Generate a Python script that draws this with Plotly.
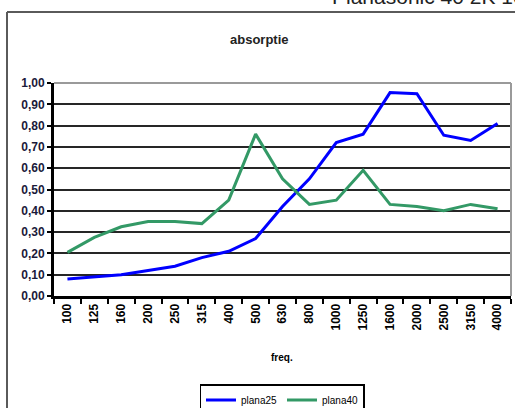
import plotly.graph_objects as go

freqs = ["100", "125", "160", "200", "250", "315", "400", "500", "630", "800",
         "1000", "1250", "1600", "2000", "2500", "3150", "4000"]
plana25 = [0.08, 0.09, 0.10, 0.12, 0.14, 0.18, 0.21, 0.27, 0.42, 0.55,
           0.72, 0.76, 0.955, 0.95, 0.755, 0.73, 0.81]
plana40 = [0.205, 0.275, 0.325, 0.35, 0.35, 0.34, 0.45, 0.76, 0.55, 0.43,
           0.45, 0.59, 0.43, 0.42, 0.40, 0.43, 0.41]
ytick_values = [0.0, 0.1, 0.2, 0.3, 0.4, 0.5, 0.6, 0.7, 0.8, 0.9, 1.0]

W, H = 515, 408
L, R, T, B = 54, 4, 83, 112
pw, ph = W - L - R, H - T - B

def px(x):
    return (x - L) / pw

def py(y):
    return (H - B - y) / ph

fig = go.Figure()
fig.add_trace(go.Scatter(x=freqs, y=plana25, mode="lines", name="plana25",
                         line=dict(color="#0000FF", width=3)))
fig.add_trace(go.Scatter(x=freqs, y=plana40, mode="lines", name="plana40",
                         line=dict(color="#339966", width=3)))

fig.update_layout(
    width=W, height=H,
    margin=dict(l=L, r=R, t=T, b=B, autoexpand=False),
    paper_bgcolor="white", plot_bgcolor="white",
    showlegend=True,
    font=dict(family="Liberation Sans, Arial", color="black"),
    legend=dict(orientation="h", x=px(282), xanchor="center", y=py(384), yanchor="top",
                bordercolor="black", borderwidth=1.5, bgcolor="white",
                font=dict(size=10, family="Liberation Sans Narrow, Liberation Sans, Arial"),
                itemwidth=30, tracegroupgap=0, entrywidth=36, entrywidthmode="pixels"),
    xaxis=dict(type="category", range=[-0.5, 16.5], tickson="boundaries",
               showgrid=False, showline=True, linecolor="black", linewidth=3,
               ticks="outside", ticklen=5, tickwidth=2, tickcolor="black",
               tickangle=-90, tickfont=dict(size=12, family="Liberation Sans", color="black"),
               zeroline=False),
    yaxis=dict(range=[0, 1.0],
               showgrid=True, gridcolor="#262626", gridwidth=1.5,
               showline=True, linecolor="black", linewidth=3,
               ticks="outside", ticklen=4, tickwidth=2, tickcolor="black",
               tickfont=dict(size=12, family="Liberation Sans Narrow, Liberation Sans", color="#1a1a3a"),
               zeroline=False),
)

fig.update_xaxes(tickvals=freqs, ticktext=["<b>%s</b>" % f for f in freqs])
fig.update_yaxes(tickvals=ytick_values,
                 ticktext=["<b>%s</b>" % ("%.2f" % v).replace(".", ",") for v in ytick_values])

# plot-area border (top/right, gray)
fig.add_shape(type="line", xref="x domain", yref="y domain", x0=0, x1=1, y0=1, y1=1,
              line=dict(color="#9a9a9a", width=2))
fig.add_shape(type="line", xref="x domain", yref="y domain", x0=1, x1=1, y0=0, y1=1,
              line=dict(color="#9a9a9a", width=2))

# outer chart frame
fig.add_shape(type="line", xref="paper", yref="paper", x0=px(7), x1=px(W + 5), y0=py(12), y1=py(12),
              line=dict(color="#5a5a5a", width=2))
fig.add_shape(type="line", xref="paper", yref="paper", x0=px(7), x1=px(7), y0=py(12), y1=py(H + 5),
              line=dict(color="#5a5a5a", width=2))

fig.add_annotation(text="<b>absorptie</b>", xref="paper", yref="paper",
                   x=px(259), y=py(40), xanchor="center", yanchor="middle", showarrow=False,
                   font=dict(size=13, family="Liberation Sans Narrow, Liberation Sans", color="#222"))
fig.add_annotation(text="<b>freq.</b>", xref="paper", yref="paper",
                   x=px(282), y=py(357), xanchor="center", yanchor="middle", showarrow=False,
                   font=dict(size=10, family="Liberation Sans", color="black"))
fig.add_annotation(text="Planasonic 40 2K 1000", xref="paper", yref="paper",
                   x=px(330), y=py(-3), xanchor="left", yanchor="middle", showarrow=False,
                   font=dict(size=21, family="Liberation Sans", color="#222"))

fig.write_html("out.html", config={"displayModeBar": False},
               post_script="document.body.style.margin='0';")
